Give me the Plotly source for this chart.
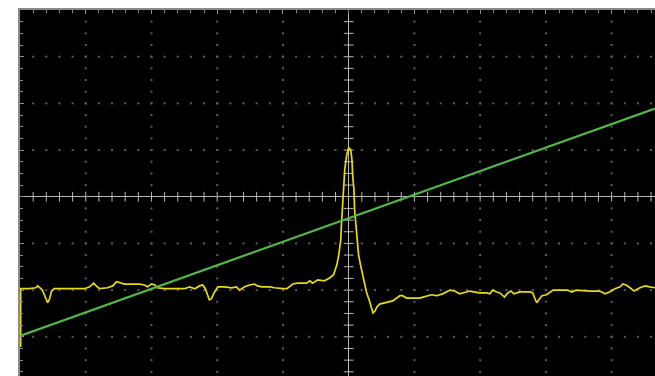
import numpy as np
import plotly.graph_objects as go

# Screen units: divisions (x: horizontal divisions from centre, y: vertical divisions from centre)
ch1_x = [-4.99, -4.99, -4.86, -4.76, -4.73, -4.70, -4.66, -4.63, -4.60, -4.58, -4.55, -4.52, -4.48,
         -4.25, -4.02, -3.94, -3.88, -3.84, -3.79, -3.67, -3.59, -3.53, -3.47, -3.41, -3.18, -3.11,
         -3.06, -3.00, -2.95, -2.91, -2.80, -2.65, -2.50, -2.42, -2.34, -2.27, -2.22, -2.18, -2.15,
         -2.12, -2.09, -2.04, -1.99, -1.89, -1.78, -1.71, -1.66, -1.58, -1.51, -1.43, -1.39, -1.32,
         -1.20, -1.13, -1.00, -0.94, -0.85, -0.78, -0.64, -0.59, -0.55, -0.47, -0.37, -0.29, -0.23,
         -0.18, -0.15, -0.12, -0.11, -0.09, -0.08, -0.06, -0.03, 0.00, 0.03, 0.05, 0.06, 0.08, 0.09,
         0.11, 0.12, 0.15, 0.18, 0.23, 0.27, 0.32, 0.37, 0.40, 0.43, 0.47, 0.55, 0.62, 0.67, 0.78,
         0.82, 0.88, 1.08, 1.13, 1.20, 1.26, 1.34, 1.43, 1.54, 1.61, 1.69, 1.77, 1.84, 1.99, 2.10,
         2.15, 2.19, 2.25, 2.30, 2.37, 2.42, 2.47, 2.51, 2.56, 2.60, 2.76, 2.80, 2.83, 2.86, 2.89,
         2.94, 3.01, 3.08, 3.11, 3.21, 3.33, 3.39, 3.46, 3.67, 3.82, 3.90, 3.97, 4.05, 4.13, 4.17,
         4.22, 4.28, 4.34, 4.43, 4.51, 4.58, 4.66]
ch1_y = [-3.22, -1.97, -1.97, -1.95, -1.91, -1.95, -2.00, -2.10, -2.23, -2.27, -2.19, -2.02, -1.97,
         -1.97, -1.97, -1.93, -1.85, -1.91, -1.97, -1.95, -1.91, -1.82, -1.85, -1.87, -1.87, -1.89,
         -1.93, -1.87, -1.89, -1.95, -1.97, -1.97, -1.97, -1.93, -1.97, -1.91, -1.89, -1.97, -2.10,
         -2.21, -2.19, -2.04, -1.93, -1.93, -1.95, -1.93, -2.00, -1.93, -1.89, -1.87, -1.91, -1.93,
         -1.93, -1.95, -1.97, -1.97, -1.87, -1.85, -1.85, -1.80, -1.85, -1.78, -1.80, -1.74, -1.67,
         -1.46, -1.24, -0.92, -0.60, -0.17, 0.26, 0.58, 0.90, 1.05, 1.01, 0.79, 0.47, 0.15, -0.28,
         -0.60, -0.92, -1.24, -1.46, -1.78, -2.04, -2.25, -2.49, -2.45, -2.36, -2.30, -2.27, -2.25,
         -2.23, -2.12, -2.12, -2.17, -2.17, -2.15, -2.12, -2.10, -2.12, -2.08, -2.00, -2.02, -2.08,
         -2.04, -2.02, -2.06, -2.06, -2.08, -2.00, -2.04, -2.06, -2.15, -2.06, -2.02, -2.08, -2.06,
         -2.04, -2.04, -2.06, -2.17, -2.27, -2.21, -2.12, -2.10, -2.04, -2.00, -2.00, -2.00, -2.04,
         -2.00, -2.02, -2.02, -2.08, -2.04, -1.97, -1.93, -1.87, -1.89, -1.95, -2.02, -1.95, -1.91,
         -1.93, -1.95]

ch2_x = [-5.00, -2.50, 0.00, 2.50, 4.66]
ch2_y = [-2.98, -1.72, -0.45, 0.81, 1.89]

X_RANGE = [-5.0, 4.66]
Y_RANGE = [-3.84, 4.0]

GRID = '#5e5e5e'
AXIS = '#b8b8b8'
BORDER = '#8a8a8a'

fig = go.Figure()

# dotted graticule
gx, gy = [], []
for xv in range(-4, 5):
    if xv == 0:
        continue
    for yv in np.arange(-3.75, 4.0, 0.25):
        gx.append(xv); gy.append(yv)
for yv in range(-3, 4):
    if yv == 0:
        continue
    for xv in np.arange(-4.8, 4.7, 0.2):
        gx.append(xv); gy.append(yv)
fig.add_trace(go.Scatter(x=gx, y=gy, mode='markers', hoverinfo='skip',
                         marker=dict(symbol='square', size=2, color=GRID, line=dict(width=0))))

# centre-axis ticks
tx = [v for v in np.arange(-4.8, 4.7, 0.2) if abs(v) > 1e-6]
fig.add_trace(go.Scatter(x=tx, y=[0] * len(tx), mode='markers', hoverinfo='skip',
                         marker=dict(symbol='line-ns', size=7, line=dict(width=1, color=AXIS))))
ty = [v for v in np.arange(-3.75, 4.0, 0.25) if abs(v) > 1e-6]
fig.add_trace(go.Scatter(x=[0] * len(ty), y=ty, mode='markers', hoverinfo='skip',
                         marker=dict(symbol='line-ew', size=7, line=dict(width=1, color=AXIS))))

# channels
fig.add_trace(go.Scatter(x=ch1_x, y=ch1_y, mode='lines', line=dict(color='#e6dc14', width=1.7),
                         hoverinfo='skip'))
fig.add_trace(go.Scatter(x=ch2_x, y=ch2_y, mode='lines', line=dict(color='#52b848', width=2.2),
                         hoverinfo='skip'))

fig.update_layout(
    width=655, height=376,
    margin=dict(l=20, r=0, t=10, b=0),
    paper_bgcolor='white', plot_bgcolor='black',
    showlegend=False,
)
fig.update_xaxes(range=X_RANGE, side='top', showline=True, linecolor=BORDER, linewidth=2,
                 showgrid=False, zeroline=True, zerolinecolor=AXIS, zerolinewidth=1,
                 showticklabels=False, ticks='inside', tick0=0, dtick=1, ticklen=4,
                 tickcolor=BORDER, tickwidth=1,
                 minor=dict(ticks='inside', dtick=0.2, ticklen=3, tickcolor=BORDER, showgrid=False),
                 fixedrange=True)
fig.update_yaxes(range=Y_RANGE, side='left', showline=True, linecolor=BORDER, linewidth=2,
                 showgrid=False, zeroline=True, zerolinecolor=AXIS, zerolinewidth=1,
                 showticklabels=False, ticks='inside', tick0=0, dtick=1, ticklen=4,
                 tickcolor=BORDER, tickwidth=1,
                 minor=dict(ticks='inside', dtick=0.25, ticklen=3, tickcolor=BORDER, showgrid=False),
                 fixedrange=True)

fig.write_html("out.html", config={'displayModeBar': False},
               post_script="document.body.style.margin='0';document.body.style.overflow='hidden';")
